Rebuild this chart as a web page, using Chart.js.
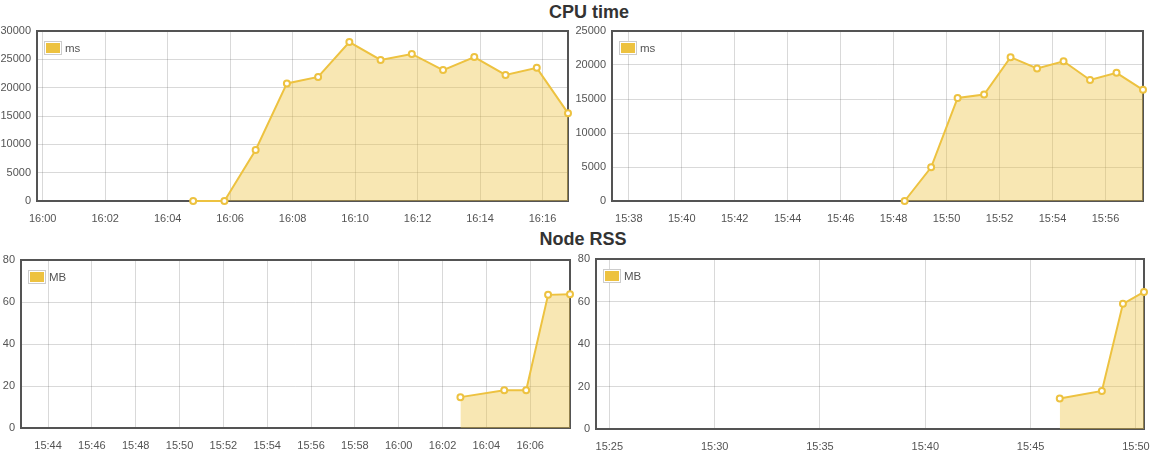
<!DOCTYPE html>
<html><head><meta charset="utf-8">
<script src="https://cdn.jsdelivr.net/npm/chart.js@4/dist/chart.umd.min.js"></script>
<style>
body{margin:0;background:#fff;width:1154px;height:456px;overflow:hidden;position:relative;font-family:"Liberation Sans",Arial,sans-serif}
.title{position:absolute;font-weight:bold;font-size:18px;line-height:21px;color:#333;white-space:nowrap;transform:translateX(-50%)}
canvas{position:absolute}
</style></head><body>
<div class="title" style="left:589px;top:2px">CPU time</div>
<div class="title" style="left:583px;top:229px">Node RSS</div>
<canvas id="c1" width="575" height="203" style="left:0;top:22px"></canvas>
<canvas id="c2" width="575" height="203" style="left:575px;top:22px"></canvas>
<canvas id="c3" width="577" height="202" style="left:0;top:250px"></canvas>
<canvas id="c4" width="574" height="205" style="left:577px;top:249px"></canvas>
<script>
// ---- data ----
const cpuTimesA = ['16:04:49','16:05:49','16:06:49','16:07:49','16:08:49','16:09:49','16:10:49','16:11:49','16:12:49','16:13:49','16:14:49','16:15:49','16:16:49'];
const cpuValuesA = [0,0,9000,20750,21900,28050,24900,25950,23100,25400,22250,23500,15500];
const cpuTicksA = ['16:00','16:02','16:04','16:06','16:08','16:10','16:12','16:14','16:16'];
const cpuRangeA = ['15:59:49','16:16:49'];
const cpuYMaxA = 30000;

const cpuTimesB = ['15:48:25','15:49:25','15:50:25','15:51:25','15:52:25','15:53:25','15:54:25','15:55:25','15:56:25','15:57:25'];
const cpuValuesB = [0,4950,15150,15650,21150,19500,20550,17800,18850,16350];
const cpuTicksB = ['15:38','15:40','15:42','15:44','15:46','15:48','15:50','15:52','15:54','15:56'];
const cpuRangeB = ['15:37:22','15:57:25'];
const cpuYMaxB = 25000;

const rssTimesA = ['16:02:49','16:04:49','16:05:49','16:06:49','16:07:49'];
const rssValuesA = [14.7,18,18,63.4,63.7];
const rssTicksA = ['15:44','15:46','15:48','15:50','15:52','15:54','15:56','15:58','16:00','16:02','16:04','16:06'];
const rssRangeA = ['15:42:46','16:07:49'];

const rssTimesB = ['15:46:23','15:48:23','15:49:23','15:50:23'];
const rssValuesB = [14.4,17.9,58.9,64.5];
const rssTicksB = ['15:25','15:30','15:35','15:40','15:45','15:50'];
const rssRangeB = ['15:24:22','15:50:23'];
const rssYMax = 80;

// ---- helpers ----
function toMin(s){const p=s.split(':').map(Number);return p[0]*60+p[1]+(p[2]||0)/60;}
const COLOR='#edc240', FILL='rgba(237,194,64,0.4)', TXT='#545454', GRID='rgba(84,84,84,0.22)';
const FONT={family:'"Liberation Sans", Arial, sans-serif', size:11};

const framePlugin={id:'frame',beforeDatasetsDraw(chart){const a=chart.chartArea,c=chart.ctx;c.save();c.strokeStyle='#545454';c.lineWidth=2;c.strokeRect(a.left,a.top,a.right-a.left,a.bottom-a.top);c.restore();}};
const boxLegend={id:'boxLegend',afterDraw(chart){const a=chart.chartArea,c=chart.ctx;c.save();
  c.fillStyle='#fff';c.fillRect(a.left+7,a.top+10,18,14);
  c.strokeStyle='#ccc';c.lineWidth=1;c.strokeRect(a.left+7.5,a.top+10.5,17,13);
  c.fillStyle=COLOR;c.fillRect(a.left+9,a.top+12,14,10);
  c.fillStyle=TXT;c.font='11.5px "Liberation Sans", Arial, sans-serif';c.textBaseline='middle';c.textAlign='left';
  c.fillText(chart.data.datasets[0].label,a.left+28,a.top+17.5);c.restore();}};

function noPad(s){s.paddingLeft=0;s.paddingRight=0;s.paddingTop=0;s.paddingBottom=0;}

function make(id,label,times,values,ticks,range,ymax,ystep,g){
  new Chart(document.getElementById(id),{
    type:'line',
    data:{datasets:[{label:label,data:times.map((t,i)=>({x:toMin(t),y:values[i]})),
      borderColor:COLOR,backgroundColor:FILL,fill:'origin',borderWidth:2,tension:0,
      pointRadius:3,pointBackgroundColor:'#fff',pointBorderColor:COLOR,pointBorderWidth:2,clip:8}]},
    options:{responsive:false,animation:false,events:[],
      layout:{padding:{left:0,top:g.pt,right:g.pr,bottom:0}},
      plugins:{legend:{display:false},tooltip:{enabled:false}},
      scales:{
        x:{type:'linear',min:toMin(range[0]),max:toMin(range[1]),
          afterBuildTicks:s=>{s.ticks=ticks.map(t=>({value:toMin(t)}));},
          afterFit:s=>{s.height=g.xh;noPad(s);},
          ticks:{callback:(v,i)=>ticks[i],autoSkip:false,maxRotation:0,padding:11,color:TXT,font:FONT},
          grid:{color:GRID,lineWidth:1,drawTicks:false},border:{display:false}},
        y:{min:0,max:ymax,afterFit:s=>{s.width=g.yw;noPad(s);},
          ticks:{stepSize:ystep,padding:6,color:TXT,font:FONT,callback:v=>String(v)},
          grid:{color:GRID,lineWidth:1,drawTicks:false},border:{display:false}}
      }},
    plugins:[framePlugin,boxLegend]
  });
}
make('c1','ms',cpuTimesA,cpuValuesA,cpuTicksA,cpuRangeA,cpuYMaxA,5000,{yw:37,pt:9,pr:7,xh:24});
make('c2','ms',cpuTimesB,cpuValuesB,cpuTicksB,cpuRangeB,cpuYMaxB,5000,{yw:37,pt:9,pr:7,xh:24});
make('c3','MB',rssTimesA,rssValuesA,rssTicksA,rssRangeA,rssYMax,20,{yw:21,pt:10,pr:7,xh:24});
make('c4','MB',rssTimesB,rssValuesB,rssTicksB,rssRangeB,rssYMax,20,{yw:19,pt:10,pr:7,xh:25});
</script>
</body></html>
